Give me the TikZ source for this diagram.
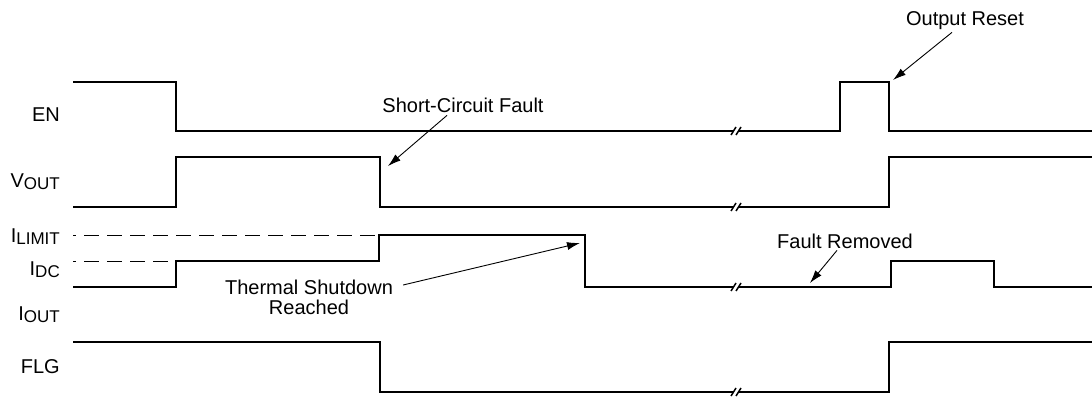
\documentclass[tikz,border=0pt]{standalone}
\usepackage{fontspec}
\setmainfont{Liberation Sans}
\usetikzlibrary{arrows.meta}
\tikzset{
  sig/.style={line width=2.8pt},
  lvl/.style={line width=0.9pt,dash pattern=on 15pt off 8pt,dash phase=12pt},
  note/.style={-{Latex[length=13pt,width=8pt]},line width=0.9pt},
  lbl/.style={anchor=base east,inner sep=0pt,font=\fontsize{20}{20}\selectfont},
  txt/.style={inner sep=0pt,align=center,font=\fontsize{20}{20}\selectfont}
}
\newcommand{\subs}[1]{\raisebox{-2pt}{\fontsize{17}{17}\selectfont #1}}
% break marks on a trace at height #1
\newcommand{\brk}[1]{\draw[line width=1.5pt] (731,#1+4) -- (736,#1-4) (736,#1+4) -- (741,#1-4);}

\begin{document}
\begin{tikzpicture}[x=1pt,y=-1pt]
\useasboundingbox (0,0) rectangle (1092,398);

% signal names
\node[lbl] (en) at (60,122) {EN};
\node[lbl] (vout) at (60,188) {V\subs{OUT}};
\node[lbl] (ilim) at (60,242) {I\subs{LIMIT}};
\node[lbl] (idc) at (60,275) {I\subs{DC}};
\node[lbl] (iout) at (60,320) {I\subs{OUT}};
\node[lbl] (flg) at (60,373) {FLG};

% reference levels
\draw[lvl] (73,235) -- (378,235);
\draw[lvl] (73,261) -- (175,261);

% EN
\draw[sig] (73,82) -- (176,82) -- (176,131) -- (733,131);
\draw[sig] (739,131) -- (840,131) -- (840,82) -- (889,82) -- (889,131) -- (1092,131);
\brk{131}

% VOUT
\draw[sig] (73,207) -- (176,207) -- (176,157) -- (380,157) -- (380,207) -- (733,207);
\draw[sig] (739,207) -- (889,207) -- (889,157) -- (1092,157);
\brk{207}

% IOUT
\draw[sig] (73,287) -- (176,287) -- (176,261) -- (379,261) -- (379,235) -- (585,235) -- (585,287) -- (733,287);
\draw[sig] (739,287) -- (891,287) -- (891,261) -- (994,261) -- (994,287) -- (1092,287);
\brk{287}

% FLG
\draw[sig] (73,342) -- (380,342) -- (380,392) -- (733,392);
\draw[sig] (739,392) -- (889,392) -- (889,342) -- (1092,342);
\brk{392}

% annotations
\node[txt,anchor=base] (scf) at (463,113) {Short-Circuit Fault};
\coordinate (scf tip) at (388,166);
\draw[note] ([xshift=-16pt,yshift=-2pt]scf.south) -- (scf tip);

\node[txt,anchor=base] (rst) at (965,26) {Output Reset};
\coordinate (rst tip) at (893,80);
\draw[note] ([xshift=-13pt,yshift=-2pt]rst.south) -- (rst tip);

\node[txt] (tsd) at (309,297) {Thermal Shutdown\\Reached};
\coordinate (tsd tip) at (580,243);
\draw[note] ([xshift=10pt,yshift=12pt]tsd.east) -- (tsd tip);

\node[txt,anchor=base] (frm) at (845,248) {Fault Removed};
\coordinate (frm tip) at (810,283);
\draw[note] ([xshift=-8pt,yshift=-2pt]frm.south) -- (frm tip);
\end{tikzpicture}
\end{document}
